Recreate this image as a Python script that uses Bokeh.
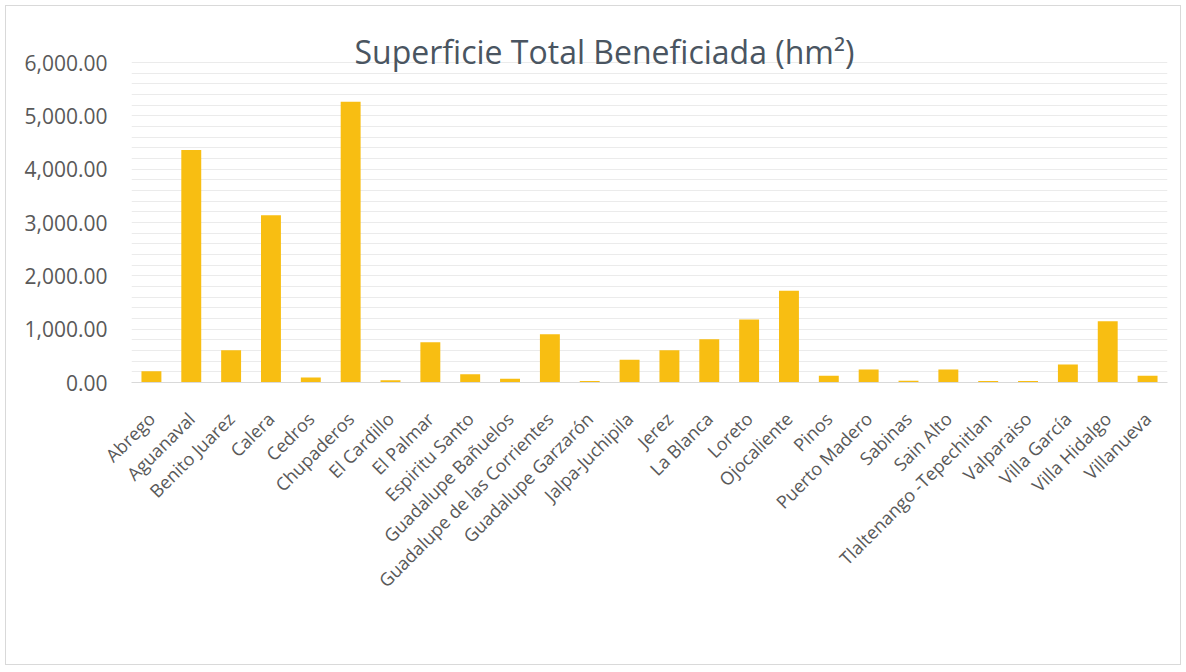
import math
from bokeh.plotting import figure
from bokeh.models import ColumnDataSource, NumeralTickFormatter, SingleIntervalTicker, Range1d, Label
from bokeh.embed import file_html
from bokeh.resources import INLINE

categories = ["Abrego", "Aguanaval", "Benito Juarez", "Calera", "Cedros", "Chupaderos",
              "El Cardillo", "El Palmar", "Espiritu Santo", "Guadalupe Bañuelos",
              "Guadalupe de las Corrientes", "Guadalupe Garzarón", "Jalpa-Juchipila",
              "Jerez", "La Blanca", "Loreto", "Ojocaliente", "Pinos", "Puerto Madero",
              "Sabinas", "Sain Alto", "Tlaltenango -Tepechitlan", "Valparaiso",
              "Villa García", "Villa Hidalgo", "Villanueva"]
values = [210, 4360, 606, 3137, 94, 5262,
          44, 756, 156, 69,
          906, 30, 425,
          606, 812, 1181, 1719, 125, 244,
          35, 244, 30, 30,
          337, 1150, 125]
title_text = "Superficie Total Beneficiada (hm²)"
y_max = 6000

src = ColumnDataSource(data=dict(cat=categories, val=values))

# frame extends above the 6,000 line to leave room for the title inside it
p = figure(x_range=categories, y_range=Range1d(0, 6675), width=1176, height=660,
           output_backend="svg", toolbar_location=None,
           min_border_left=125, min_border_right=15, min_border_top=20, min_border_bottom=284)

p.vbar(x="cat", top="val", width=0.5, source=src, fill_color="#F8BE12", line_color=None)

p.add_layout(Label(x=473, y=y_max + 215, x_units="screen", y_units="data", text=title_text,
                   text_align="center", text_baseline="alphabetic",
                   text_font="Open Sans", text_font_size="32px", text_color="#4A5561"))

p.outline_line_color = None
p.xgrid.grid_line_color = None
p.ygrid.ticker = SingleIntervalTicker(interval=200)
p.ygrid.bounds = (0, y_max)
p.ygrid.grid_line_color = "#EBEBEB"

p.yaxis.ticker = SingleIntervalTicker(interval=1000)
p.yaxis.bounds = (0, y_max)
p.yaxis.formatter = NumeralTickFormatter(format="0,0.00")
p.yaxis.axis_line_color = None
p.yaxis.major_tick_line_color = None
p.yaxis.minor_tick_line_color = None
p.yaxis.major_tick_out = 0
p.yaxis.major_tick_in = 0
p.yaxis.major_label_standoff = 20
p.yaxis.major_label_text_font = "Open Sans"
p.yaxis.major_label_text_font_size = "21px"
p.yaxis.major_label_text_color = "#595959"

p.xaxis.axis_line_color = "#D9D9D9"
p.xaxis.major_tick_line_color = None
p.xaxis.major_tick_out = 0
p.xaxis.major_tick_in = 0
p.xaxis.major_label_orientation = math.pi / 4
p.xaxis.major_label_standoff = 33
p.xaxis.major_label_text_font = "Open Sans"
p.xaxis.major_label_text_font_size = "18px"
p.xaxis.major_label_text_color = "#595959"

p.styles = {"border": "1px solid #D9D9D9", "margin": "5px 0 0 5px"}

open("out.html", "w").write(file_html(p, INLINE))
